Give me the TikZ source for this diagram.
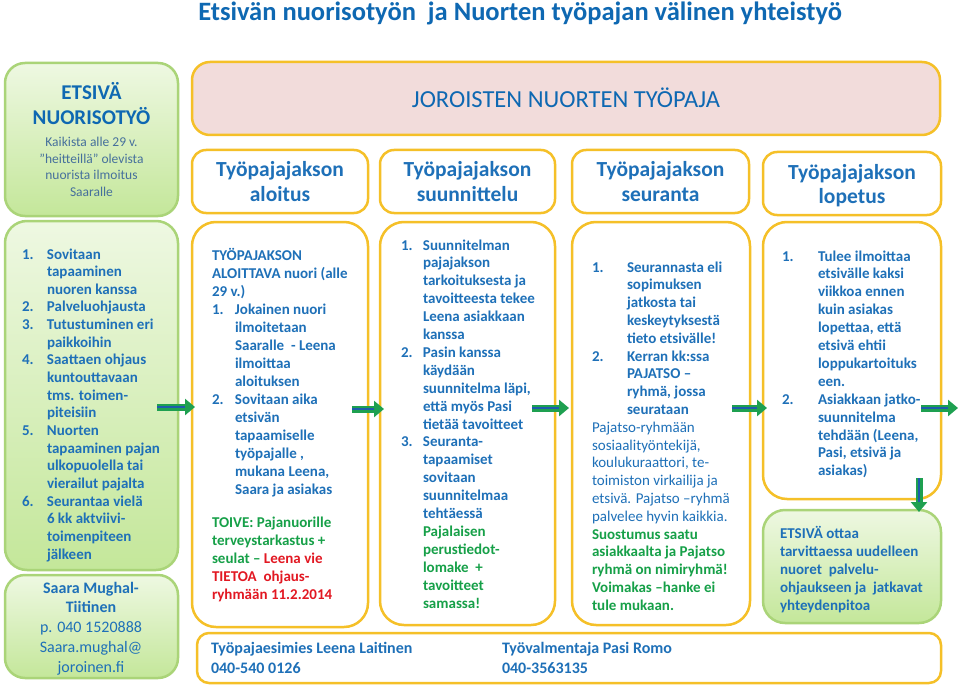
\documentclass[tikz,border=0pt]{standalone}
\usepackage{fontspec}
\setmainfont{Carlito}
\usetikzlibrary{arrows.meta}
\definecolor{tblue}{RGB}{14,104,178}
\definecolor{bblue}{RGB}{30,112,184}
\definecolor{gtext}{RGB}{22,160,72}
\definecolor{rtext}{RGB}{226,24,34}
\definecolor{ybord}{RGB}{245,192,40}
\definecolor{gbord}{RGB}{170,212,120}
\definecolor{gtopc}{RGB}{238,248,226}
\definecolor{gbotc}{RGB}{196,231,154}
\definecolor{pinkf}{RGB}{242,220,219}
\definecolor{arrg}{RGB}{30,160,80}
\definecolor{arrb}{RGB}{30,92,172}
\definecolor{greyblue}{RGB}{70,112,156}
\newcommand\spanrow[1]{\multicolumn{2}{@{}l@{}}{#1}}
\begin{document}
\begin{tikzpicture}[x=1pt,y=-1pt,
  every node/.style={inner sep=0pt, outer sep=0pt},
  ybox/.style={draw=ybord, line width=2.5pt, fill=white, rounded corners=#1, anchor=north west},
  ybox/.default=20pt,
  pbox/.style={draw=ybord, line width=2.5pt, fill=pinkf, rounded corners=#1, anchor=north west},
  pbox/.default=18pt,
  gbox/.style={draw=gbord, line width=2.5pt, top color=gtopc, bottom color=gbotc, rounded corners=#1, anchor=north west},
  gbox/.default=20pt,
  txt/.style={anchor=base west, text=bblue, font=\fontsize{15}{17.8}\selectfont\bfseries},
  headtxt/.style={anchor=base, text=bblue, font=\fontsize{21.5}{24.5}\selectfont\bfseries},
  garrow/.style={draw=arrg, line width=7pt, -{Triangle[width=16pt,length=10pt]}},
  gstripe/.style={draw=arrb, line width=2.2pt, shorten >=10pt},
]
\useasboundingbox (0,0) rectangle (960,687);
\fill[white] (0,0) rectangle (960,687);

% title
\node[anchor=base, text=tblue, font=\fontsize{26.5}{30}\selectfont\bfseries] (title) at (520,21)
  {Etsivän nuorisotyön \ ja Nuorten työpajan välinen yhteistyö};

% boxes
\node[gbox=20pt, minimum width=173pt, minimum height=153pt] (gtop) at (5,63) {};
\node[pbox=18pt, minimum width=748pt, minimum height=73pt] (hdr) at (192,62) {};
\node[ybox=14pt, minimum width=176pt, minimum height=63pt] (h1) at (192,150) {};
\node[ybox=14pt, minimum width=175pt, minimum height=63pt] (h2) at (380,150) {};
\node[ybox=14pt, minimum width=177pt, minimum height=63pt] (h3) at (572,150) {};
\node[ybox=14pt, minimum width=178pt, minimum height=63pt] (h4) at (763,152) {};
\node[gbox=22pt, minimum width=173pt, minimum height=349pt] (glist) at (5,221) {};
\node[gbox=20pt, minimum width=173pt, minimum height=103pt] (gcon) at (5,575) {};
\node[ybox=24pt, minimum width=176pt, minimum height=405pt] (c1) at (192,222) {};
\node[ybox=24pt, minimum width=175pt, minimum height=403pt] (c2) at (380,222) {};
\node[ybox=24pt, minimum width=178pt, minimum height=403pt] (c3) at (572,222) {};
\node[ybox=24pt, minimum width=178pt, minimum height=277pt] (c4) at (763,222) {};
\node[gbox=22pt, minimum width=178pt, minimum height=113pt] (gend) at (763,510) {};
\node[ybox=12pt, minimum width=744pt, minimum height=50pt] (bot) at (197,633) {};

% arrows
\coordinate (a1s) at (157,407); \coordinate (a1e) at (195,407);
\coordinate (a2s) at (352,409); \coordinate (a2e) at (384,409);
\coordinate (a3s) at (532,408); \coordinate (a3e) at (569,408);
\coordinate (a4s) at (732,408); \coordinate (a4e) at (767,408);
\coordinate (a5s) at (921,408); \coordinate (a5e) at (958,408);
\coordinate (a6s) at (919,478); \coordinate (a6e) at (919,512);
\foreach \a in {1,...,6}{
  \draw[garrow] (a\a s) -- (a\a e);
  \draw[gstripe] (a\a s) -- (a\a e);
}

% top-left text
\node[anchor=base, text=tblue, font=\fontsize{21}{24}\selectfont\bfseries] (gtopt1) at (91.5,100)
  {\begin{tabular}[t]{@{}c@{}}ETSIVÄ\\NUORISOTYÖ\end{tabular}};
\node[anchor=base, text=greyblue, font=\fontsize{13.5}{16.7}\selectfont] (gtopt2) at (91.5,146.5)
  {\begin{tabular}[t]{@{}c@{}}Kaikista alle 29 v.\\”heitteillä” olevista\\nuorista ilmoitus\\Saaralle\end{tabular}};

% header text
\node[anchor=base, text=tblue, font=\fontsize{24.5}{28}\selectfont] (hdrt) at (566,108) {JOROISTEN NUORTEN TYÖPAJA};
\node[headtxt] (h1t) at (280,177) {\begin{tabular}[t]{@{}c@{}}Työpajajakson\\aloitus\end{tabular}};
\node[headtxt] (h2t) at (467.5,177) {\begin{tabular}[t]{@{}c@{}}Työpajajakson\\suunnittelu\end{tabular}};
\node[headtxt] (h3t) at (660.5,177) {\begin{tabular}[t]{@{}c@{}}Työpajajakson\\seuranta\end{tabular}};
\node[headtxt] (h4t) at (852,179) {\begin{tabular}[t]{@{}c@{}}Työpajajakson\\lopetus\end{tabular}};

% left list
\node[txt, font=\fontsize{15}{17.65}\selectfont\bfseries] (glistt) at (22,259) {\begin{tabular}[t]{@{}p{25pt}@{}l@{}}
1. & Sovitaan\\
 & tapaaminen\\
 & nuoren kanssa\\
2. & Palveluohjausta\\
3. & Tutustuminen eri\\
 & paikkoihin\\
4. & Saattaen ohjaus\\
 & kuntouttavaan\\
 & tms. toimen-\\
 & piteisiin\\
5. & Nuorten\\
 & tapaaminen pajan\\
 & ulkopuolella tai\\
 & vierailut pajalta\\
6. & Seurantaa vielä\\
 & 6 kk aktviivi-\\
 & toimenpiteen\\
 & jälkeen
\end{tabular}};

% contact
\node[anchor=base, text=bblue, font=\fontsize{16}{19.8}\selectfont] (gcont) at (91,593)
  {\begin{tabular}[t]{@{}c@{}}\textbf{Saara Mughal-}\\\textbf{Tiitinen}\\p. 040 1520888\\Saara.mughal@\\joroinen.fi\end{tabular}};

% aloitus
\node[txt, font=\fontsize{15}{18}\selectfont\bfseries] (c1t) at (212,260) {\begin{tabular}[t]{@{}p{23pt}@{}l@{}}
\spanrow{TYÖPAJAKSON}\\
\spanrow{ALOITTAVA nuori (alle}\\
\spanrow{29 v.)}\\
1. & Jokainen nuori\\
 & ilmoitetaan\\
 & Saaralle \ - Leena\\
 & ilmoittaa\\
 & aloituksen\\
2. & Sovitaan aika\\
 & etsivän\\
 & tapaamiselle\\
 & työpajalle ,\\
 & mukana Leena,\\
 & Saara ja asiakas\\[15pt]
\spanrow{\color{gtext}TOIVE: Pajanuorille}\\
\spanrow{\color{gtext}terveystarkastus +}\\
\spanrow{\textcolor{gtext}{seulat –} \textcolor{rtext}{Leena vie}}\\
\spanrow{\color{rtext}TIETOA \ ohjaus-}\\
\spanrow{\color{rtext}ryhmään 11.2.2014}
\end{tabular}};

% suunnittelu
\node[txt, font=\fontsize{15}{17.9}\selectfont\bfseries] (c2t) at (401,250) {\begin{tabular}[t]{@{}p{22pt}@{}l@{}}
1. & Suunnitelman\\
 & pajajakson\\
 & tarkoituksesta ja\\
 & tavoitteesta tekee\\
 & Leena asiakkaan\\
 & kanssa\\
2. & Pasin kanssa\\
 & käydään\\
 & suunnitelma läpi,\\
 & että myös Pasi\\
 & tietää tavoitteet\\
3. & Seuranta-\\
 & tapaamiset\\
 & sovitaan\\
 & suunnitelmaa\\
 & tehtäessä\\
 & \color{gtext}Pajalaisen\\
 & \color{gtext}perustiedot-\\
 & \color{gtext}lomake \ +\\
 & \color{gtext}tavoitteet\\
 & \color{gtext}samassa!
\end{tabular}};

% seuranta
\node[txt, font=\fontsize{15}{17.8}\selectfont\bfseries] (c3t) at (592,272) {\begin{tabular}[t]{@{}p{35pt}@{}l@{}}
1. & Seurannasta eli\\
 & sopimuksen\\
 & jatkosta tai\\
 & keskeytyksestä\\
 & tieto etsivälle!\\
2. & Kerran kk:ssa\\
 & PAJATSO –\\
 & ryhmä, jossa\\
 & seurataan\\
\spanrow{\mdseries Pajatso-ryhmään}\\
\spanrow{\mdseries sosiaalityöntekijä,}\\
\spanrow{\mdseries koulukuraattori, te-}\\
\spanrow{\mdseries toimiston virkailija ja}\\
\spanrow{\mdseries etsivä. Pajatso –ryhmä}\\
\spanrow{\mdseries palvelee hyvin kaikkia.}\\
\spanrow{\color{gtext}Suostumus saatu}\\
\spanrow{\color{gtext}asiakkaalta ja Pajatso}\\
\spanrow{\color{gtext}ryhmä on nimiryhmä!}\\
\spanrow{\color{gtext}Voimakas –hanke ei}\\
\spanrow{\color{gtext}tule mukaan.}
\end{tabular}};

% lopetus
\node[txt, font=\fontsize{15}{17.9}\selectfont\bfseries] (c4t) at (782,261) {\begin{tabular}[t]{@{}p{36pt}@{}l@{}}
1. & Tulee ilmoittaa\\
 & etsivälle kaksi\\
 & viikkoa ennen\\
 & kuin asiakas\\
 & lopettaa, että\\
 & etsivä ehtii\\
 & loppukartoituks\\
 & een.\\
2. & Asiakkaan jatko-\\
 & suunnitelma\\
 & tehdään (Leena,\\
 & Pasi, etsivä ja\\
 & asiakas)
\end{tabular}};

% lopetus green
\node[txt, font=\fontsize{15}{18}\selectfont\bfseries] (gendt) at (780,538) {\begin{tabular}[t]{@{}l@{}}
ETSIVÄ ottaa\\
tarvittaessa uudelleen\\
nuoret \ palvelu-\\
ohjaukseen ja \ jatkavat\\
yhteydenpitoa
\end{tabular}};

% bottom contacts
\node[txt, font=\fontsize{16}{20}\selectfont\bfseries] (bot1) at (211,653) {\begin{tabular}[t]{@{}l@{}}Työpajaesimies Leena Laitinen\\040-540 0126\end{tabular}};
\node[txt, font=\fontsize{16}{20}\selectfont\bfseries] (bot2) at (502,653) {\begin{tabular}[t]{@{}l@{}}Työvalmentaja Pasi Romo\\040-3563135\end{tabular}};
\end{tikzpicture}
\end{document}
